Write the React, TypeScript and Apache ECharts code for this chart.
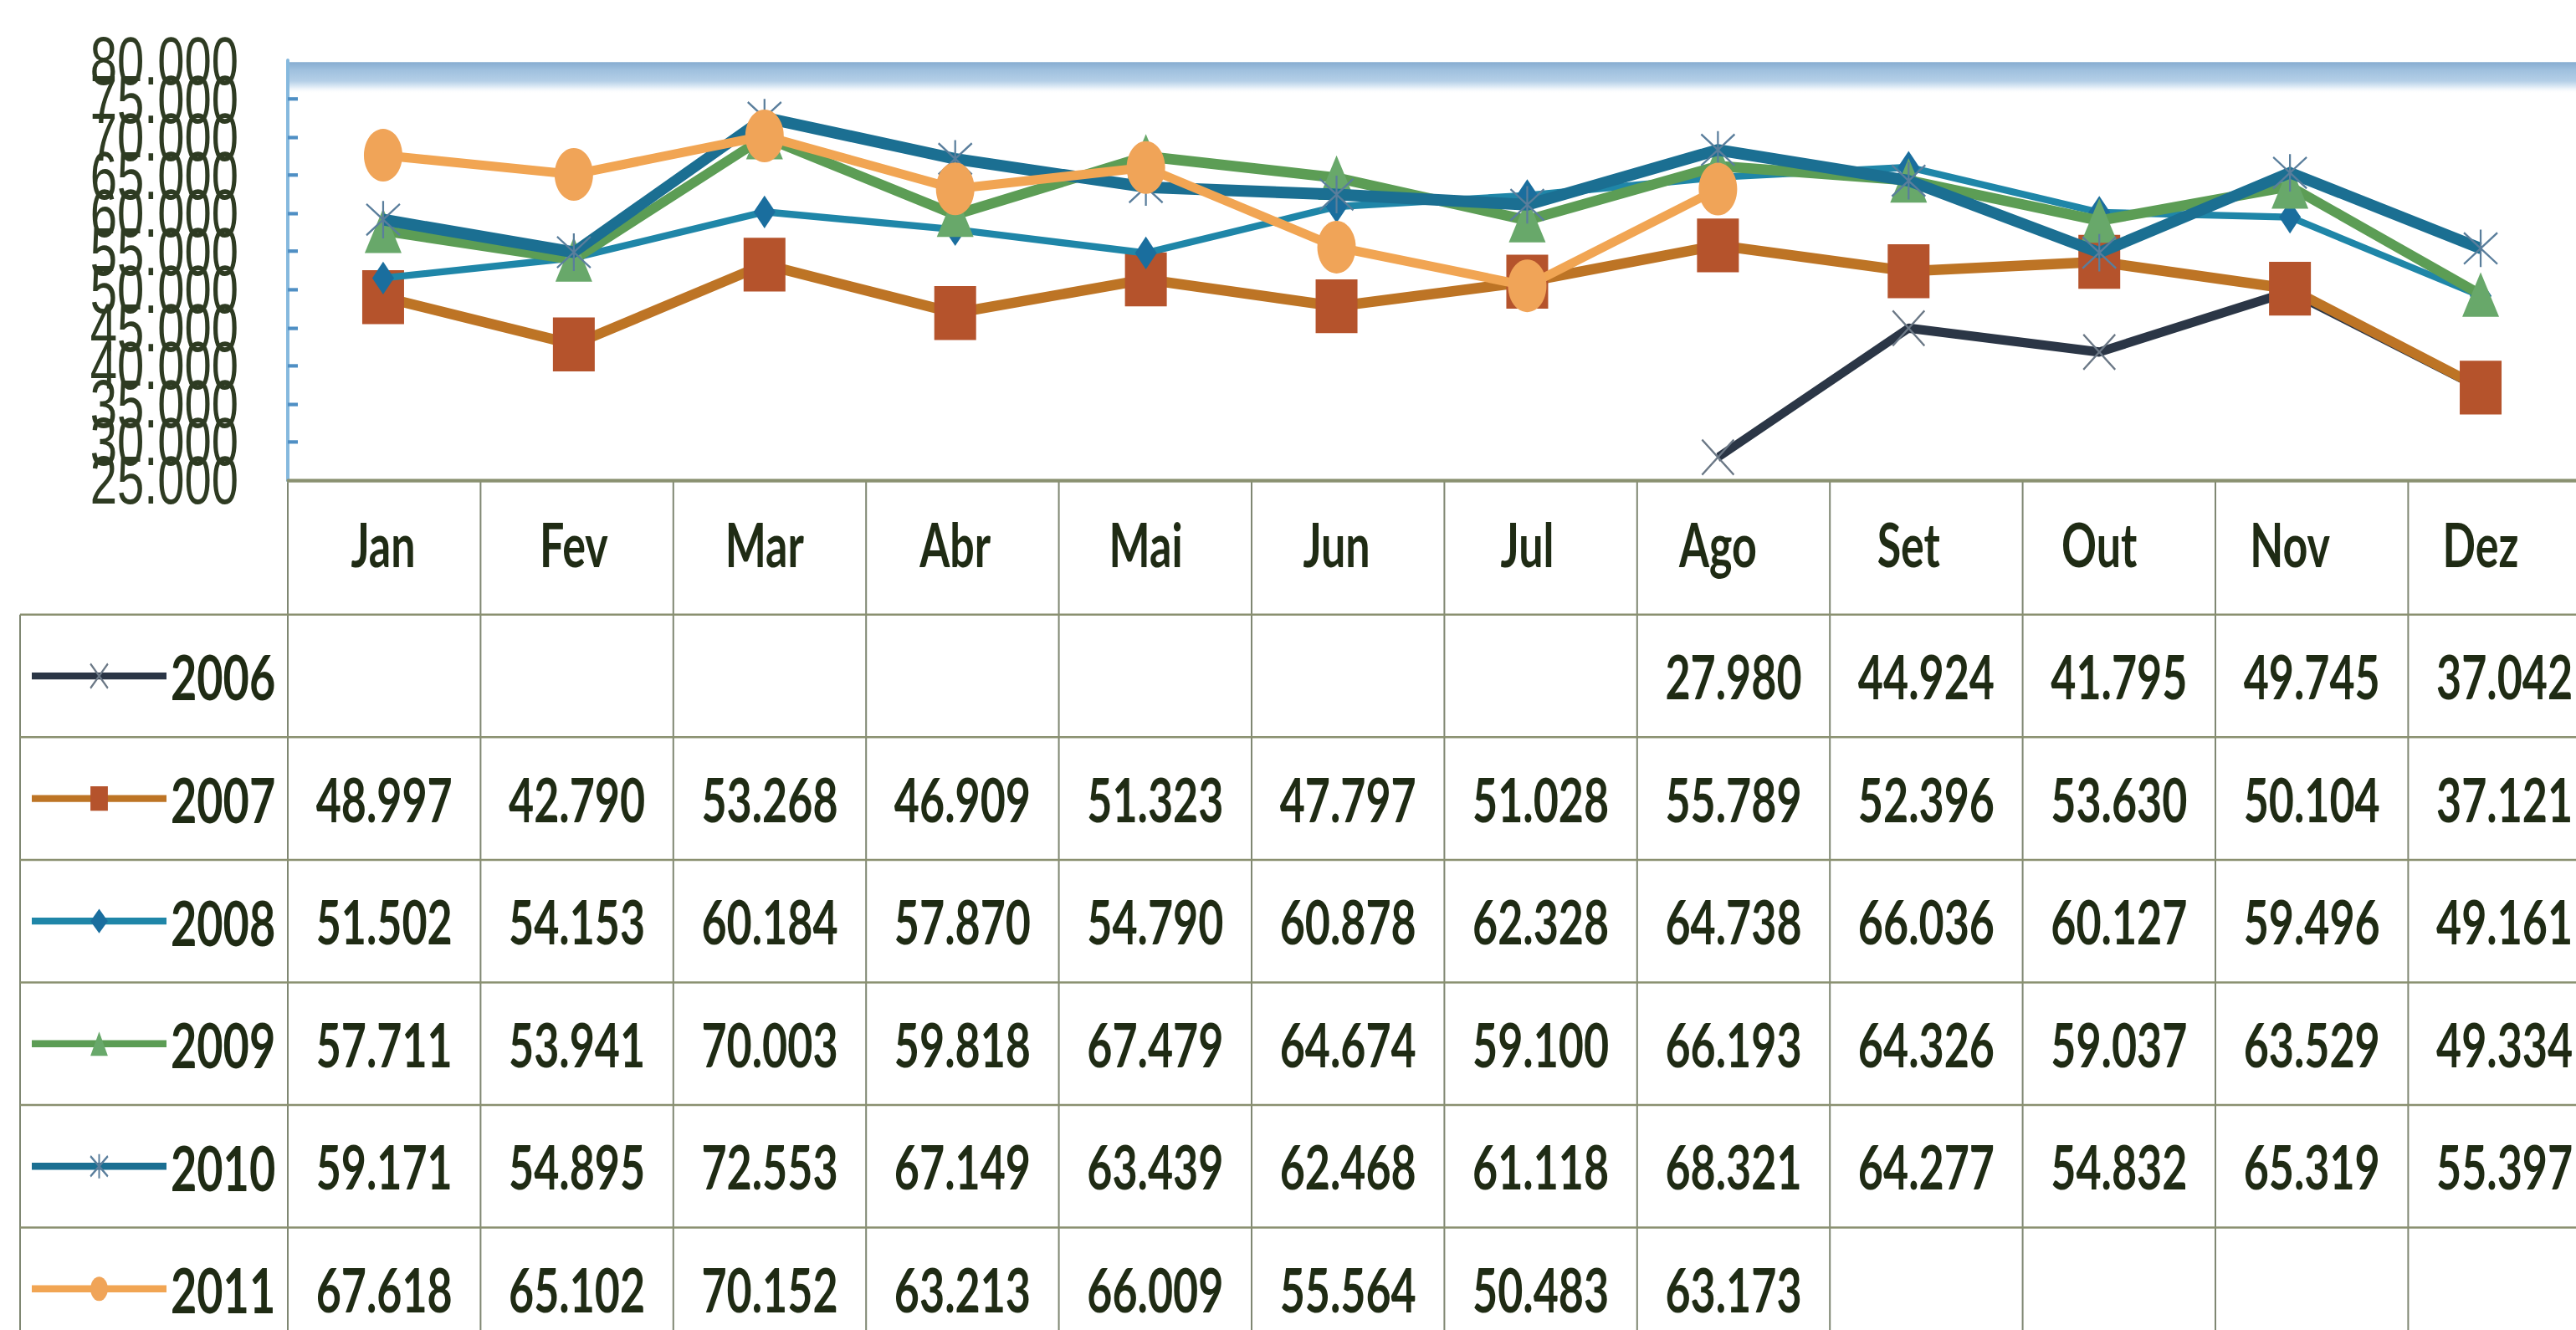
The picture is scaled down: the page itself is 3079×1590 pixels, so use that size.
import React, { useEffect, useRef } from "react";
import * as echarts from "echarts";

// ---- data ----
const months = ["Jan", "Fev", "Mar", "Abr", "Mai", "Jun", "Jul", "Ago", "Set", "Out", "Nov", "Dez"];
const years = ["2006", "2007", "2008", "2009", "2010", "2011"];
const s2006 = [null, null, null, null, null, null, null, 27980, 44924, 41795, 49745, 37042];
const s2007 = [48997, 42790, 53268, 46909, 51323, 47797, 51028, 55789, 52396, 53630, 50104, 37121];
const s2008 = [51502, 54153, 60184, 57870, 54790, 60878, 62328, 64738, 66036, 60127, 59496, 49161];
const s2009 = [57711, 53941, 70003, 59818, 67479, 64674, 59100, 66193, 64326, 59037, 63529, 49334];
const s2010 = [59171, 54895, 72553, 67149, 63439, 62468, 61118, 68321, 64277, 54832, 65319, 55397];
const s2011 = [67618, 65102, 70152, 63213, 66009, 55564, 50483, 63173, null, null, null, null];
const seriesValues = [s2006, s2007, s2008, s2009, s2010, s2011];
const yMin = 25000;
const yMax = 80000;
const yStep = 5000;

// ---- layout (internal coords; the whole chart is stretched vertically like the reference) ----
const W = 3079;
const H = 1136;
const SY = 1590 / H;
const GRID_LEFT = 344;
const COL_W = 230.4;
const GRID_TOP = 52;
const GRID_H = 358;
const AXIS_Y = GRID_TOP + GRID_H;
const HEADER_BOTTOM = 525;
const ROW_H = 104.7;
const TABLE_LEFT = 24;
const TEXT = "#1f2b14";
const FONT = "Lato, 'Open Sans', 'Noto Sans', sans-serif";

const fmt = (v: number) => Math.floor(v / 1000) + "." + String(v % 1000).padStart(3, "0");

const styles = [
  { line: "#2b3646", width: 8, symbol: "path://M0,0L10,10M10,0L0,10", size: [38, 30], fill: "#2b3646", border: "#6b7886", bw: 2 },
  { line: "#bd7425", width: 9, symbol: "rect", size: [50, 46], fill: "#b5532c", border: "#b5532c", bw: 0 },
  { line: "#1f86a8", width: 6, symbol: "diamond", size: [26, 28], fill: "#1a6e9e", border: "#1a6e9e", bw: 0 },
  { line: "#5c9d55", width: 9, symbol: "triangle", size: [44, 38], fill: "#68a86a", border: "#68a86a", bw: 0 },
  { line: "#1b6f92", width: 10, symbol: "path://M0,0L10,10M10,0L0,10M5,-1L5,11", size: [40, 32], fill: "#1b6f92", border: "#5a7e9c", bw: 2 },
  { line: "#f1a553", width: 8, symbol: "circle", size: [46, 45], fill: "#f0a458", border: "#f0a458", bw: 0 },
];

const rowCenter = (i: number) => HEADER_BOTTOM + (i + 0.5) * ROW_H;
const colCenter = (k: number) => GRID_LEFT + (k + 0.5) * COL_W;

const yLabelStyle = {
  color: "#2e3b22",
  fontSize: 58,
  fontFamily: "'Liberation Sans', Arial, sans-serif",
  margin: 59,
};

export default function App() {
  const ref = useRef<HTMLDivElement>(null);

  useEffect(() => {
    if (!ref.current) return;
    const chart = echarts.init(ref.current, undefined, { renderer: "svg" });

    const graphics: any[] = [];
    // top gradient band of the plot area
    graphics.push({
      type: "rect",
      z: 0,
      shape: { x: GRID_LEFT, y: 53, width: W - GRID_LEFT, height: 27 },
      style: {
        fill: new echarts.graphic.LinearGradient(0, 0, 0, 1, [
          { offset: 0, color: "#86acd0" },
          { offset: 0.25, color: "#9fc0de" },
          { offset: 0.6, color: "#b4cfe7" },
          { offset: 0.8, color: "#e2edf7" },
          { offset: 1, color: "rgba(255,255,255,0)" },
        ]),
      },
      silent: true,
    });
    const lineStroke = "#7f8772";
    // vertical table lines
    for (let k = 0; k <= 12; k++) {
      const x = GRID_LEFT + k * COL_W;
      graphics.push({
        type: "line",
        shape: { x1: x, y1: AXIS_Y, x2: x, y2: H },
        style: { stroke: lineStroke, lineWidth: 2 },
        silent: true,
      });
    }
    graphics.push({
      type: "line",
      shape: { x1: TABLE_LEFT, y1: HEADER_BOTTOM, x2: TABLE_LEFT, y2: H },
      style: { stroke: lineStroke, lineWidth: 2 },
      silent: true,
    });
    // horizontal table lines
    for (let r = 0; r <= 6; r++) {
      const y = HEADER_BOTTOM + r * ROW_H;
      graphics.push({
        type: "line",
        shape: { x1: TABLE_LEFT, y1: y, x2: W, y2: y },
        style: { stroke: "#8a9070", lineWidth: 1.8 },
        silent: true,
      });
    }
    // table values
    seriesValues.forEach((vals, i) => {
      vals.forEach((v, k) => {
        if (v == null) return;
        graphics.push({
          type: "text",
          x: colCenter(k),
          y: rowCenter(i),
          style: {
            text: fmt(v as number),
            fill: TEXT,
            font: `bold 52px ${FONT}`,
            align: "center",
            verticalAlign: "middle",
          },
          silent: true,
        });
      });
    });

    const option: any = {
      animation: false,
      backgroundColor: "#ffffff",
      grid: { left: GRID_LEFT, top: GRID_TOP, width: COL_W * 12, height: GRID_H },
      xAxis: {
        type: "category",
        data: months,
        boundaryGap: true,
        axisLine: { show: true, lineStyle: { color: "#8a9170", width: 3 } },
        axisTick: { show: false },
        splitLine: { show: false },
        axisLabel: {
          color: TEXT,
          fontSize: 52,
          fontWeight: "bold",
          fontFamily: FONT,
          margin: 54,
          verticalAlign: "middle",
          interval: 0,
        },
      },
      yAxis: [
        {
          type: "value",
          position: "left",
          min: yMin,
          max: yMax,
          interval: yStep,
          axisLine: { show: true, lineStyle: { color: "#86b9de", width: 4 } },
          axisTick: { show: true, inside: true, length: 12, lineStyle: { color: "#4f8fc4", width: 3 } },
          splitLine: { show: false },
          axisLabel: {
            ...yLabelStyle,
            showMinLabel: false,
            showMaxLabel: false,
            formatter: (v: number) => fmt(v),
          },
        },
        {
          type: "value",
          position: "left",
          offset: 0,
          min: yMin,
          max: yMax,
          interval: yStep,
          axisLine: { show: false },
          axisTick: { show: false },
          splitLine: { show: false },
          axisLabel: {
            ...yLabelStyle,
            showMinLabel: true,
            showMaxLabel: true,
            formatter: (v: number) => (v === yMin || v === yMax ? fmt(v) : ""),
          },
        },
      ],
      legend: years.map((y, i) => ({
        data: [y],
        left: 35,
        top: rowCenter(i) - 27,
        padding: 0,
        orient: "horizontal",
        itemWidth: 161,
        itemHeight: 26,
        selectedMode: false,
        lineStyle: { width: 6 },
        textStyle: { fontSize: 54, lineHeight: 54, fontWeight: "bold", color: TEXT, fontFamily: FONT },
      })),
      graphic: graphics,
      series: years.map((y, i) => ({
        name: y,
        type: "line",
        yAxisIndex: 0,
        data: seriesValues[i],
        connectNulls: false,
        symbol: styles[i].symbol,
        symbolSize: styles[i].size,
        showSymbol: true,
        lineStyle: { color: styles[i].line, width: styles[i].width },
        itemStyle: {
          color: styles[i].fill,
          borderColor: styles[i].border,
          borderWidth: styles[i].bw,
          opacity: 1,
        },
        z: 2 + i,
      })),
    };
    chart.setOption(option);
    return () => chart.dispose();
  }, []);

  return (
    <div
      style={{
        position: "fixed",
        left: 0,
        top: 0,
        width: W,
        height: 1590,
        overflow: "hidden",
        background: "#ffffff",
      }}
    >
      <div
        ref={ref}
        style={{ width: W, height: H, transform: `scaleY(${SY})`, transformOrigin: "0 0" }}
      />
    </div>
  );
}
